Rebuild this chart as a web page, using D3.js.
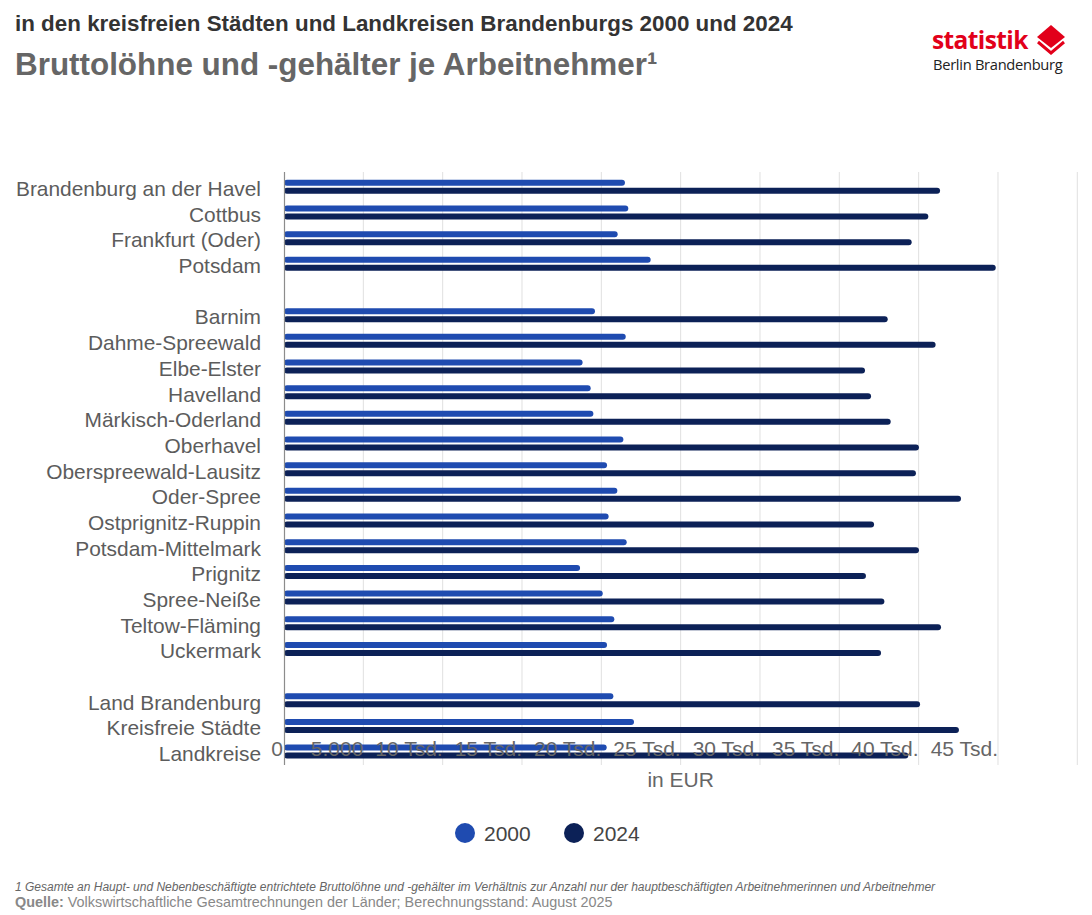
<!DOCTYPE html>
<html><head><meta charset="utf-8">
<script src="https://cdn.jsdelivr.net/npm/d3@7/dist/d3.min.js"></script>
<style>
html,body{margin:0;padding:0;background:#fff;}
svg{display:block;}
</style></head>
<body>
<svg id="chart" width="1092" height="915"></svg>
<script>
// ---- data ----
const categories = [
  "Brandenburg an der Havel","Cottbus","Frankfurt (Oder)","Potsdam",
  "Barnim","Dahme-Spreewald","Elbe-Elster","Havelland","Märkisch-Oderland","Oberhavel",
  "Oberspreewald-Lausitz","Oder-Spree","Ostprignitz-Ruppin","Potsdam-Mittelmark","Prignitz",
  "Spree-Neiße","Teltow-Fläming","Uckermark",
  "Land Brandenburg","Kreisfreie Städte","Landkreise"
];
const groupSizes = [4, 14, 3];
const values2000 = [21490,21700,21030,23110, 19600,21540,18820,19330,19500,21390,20360,21010,20460,21600,18660,20090,20820,20360, 20760,22060,20340];
const values2024 = [41350,40610,39560,44860, 38050,41070,36620,37000,38240,40020,39830,42670,37190,40020,36680,37840,41410,37630, 40090,42540,39350];
const seriesNames = ["2000","2024"];
const tickValues = [0,5000,10000,15000,20000,25000,30000,35000,40000,45000,50000];
const tickLabels = ["0","5.000","10 Tsd.","15 Tsd.","20 Tsd.","25 Tsd.","30 Tsd.","35 Tsd.","40 Tsd.","45 Tsd.",""];
const colors = ["#1f4bb0","#0c2157"];

// ---- layout ----
const svg = d3.select("#chart");
const plotLeft = 284, plotRight = 1077.3, plotTop = 174, plotBottom = 764.4;

// rows including blank separator rows
const rows = [];
let k = 0;
groupSizes.forEach((n, gi) => {
  if (gi > 0) rows.push(null);
  for (let i = 0; i < n; i++) rows.push(k++);
});
const rowKeys = rows.map((r, i) => "r" + i);
const catRow = {};
rows.forEach((r, i) => { if (r !== null) catRow[r] = "r" + i; });

const x = d3.scaleLinear().domain([0, 50000]).range([plotLeft, plotRight]);
const y = d3.scaleBand().domain(rowKeys).range([plotTop, plotBottom]).paddingInner(0).paddingOuter(0);

const FONT = "Liberation Sans, Arial, sans-serif";

// titles
svg.append("text").attr("x", 15).attr("y", 31)
  .attr("font-family", FONT).attr("font-weight", "bold")
  .attr("font-size", 22.4).attr("fill", "#333")
  .text("in den kreisfreien Städten und Landkreisen Brandenburgs 2000 und 2024");
svg.append("text").attr("x", 15).attr("y", 75)
  .attr("font-family", FONT).attr("font-weight", "bold")
  .attr("font-size", 31.4).attr("fill", "#666")
  .text("Bruttolöhne und -gehälter je Arbeitnehmer¹");

// logo
const logo = svg.append("g");
logo.append("text").attr("x", 932).attr("y", 49)
  .attr("font-family", "Open Sans, sans-serif").attr("font-weight", "bold")
  .attr("font-size", 24.5).attr("fill", "#e2001a").attr("letter-spacing", -0.6)
  .text("statistik");
logo.append("text").attr("x", 933).attr("y", 70)
  .attr("font-family", "Open Sans, sans-serif")
  .attr("font-size", 14.7).attr("fill", "#222").attr("letter-spacing", -0.3)
  .text("Berlin Brandenburg");
logo.append("path").attr("d", "M1051,25 L1065,37 L1051,48 L1037,37 Z").attr("fill", "#e2001a");
logo.append("path").attr("d", "M1038,42 L1051,53 L1064,42").attr("fill", "none").attr("stroke", "#e2001a").attr("stroke-width", 3);

// grid
const grid = svg.append("g");
grid.selectAll("line").data(tickValues.slice(1)).join("line")
  .attr("x1", d => x(d)).attr("x2", d => x(d))
  .attr("y1", 172).attr("y2", 765)
  .attr("stroke", "#e0e0e0").attr("stroke-width", 1);

// bars
const barH = 6;
const bars = svg.append("g");
categories.forEach((c, i) => {
  const cy = y(catRow[i]) + y.bandwidth() / 2;
  [values2000[i], values2024[i]].forEach((v, s) => {
    bars.append("rect")
      .attr("x", x(0)).attr("y", s === 0 ? cy - 7 : cy + 1)
      .attr("width", x(v) - x(0)).attr("height", barH)
      .attr("rx", 3).attr("ry", 3)
      .attr("fill", colors[s]);
  });
});

// y axis line
svg.append("line").attr("x1", 284.5).attr("x2", 284.5).attr("y1", 172).attr("y2", 765)
  .attr("stroke", "#8c8c8c").attr("stroke-width", 1.2);

// category labels
svg.append("g").selectAll("text").data(categories).join("text")
  .attr("x", 261).attr("y", (d, i) => y(catRow[i]) + y.bandwidth() / 2 + 2)
  .attr("dy", "0.35em").attr("text-anchor", "end")
  .attr("font-family", FONT).attr("font-size", 20.9)
  .attr("fill", "#5c5c5c")
  .text(d => d);

// x tick labels (right-aligned to gridline)
svg.append("g").selectAll("text").data(tickValues).join("text")
  .attr("x", (d, i) => x(d) + (i === 0 ? -1 : 0)).attr("y", 756)
  .attr("text-anchor", "end")
  .attr("font-family", FONT).attr("font-size", 21)
  .attr("fill", "#666")
  .text((d, i) => tickLabels[i]);

// axis title
svg.append("text").attr("x", (plotLeft + plotRight) / 2).attr("y", 787)
  .attr("text-anchor", "middle")
  .attr("font-family", FONT).attr("font-size", 21)
  .attr("fill", "#666").text("in EUR");

// legend
const legend = svg.append("g");
const legX = [465, 574];
seriesNames.forEach((n, i) => {
  legend.append("circle").attr("cx", legX[i]).attr("cy", 833).attr("r", 10).attr("fill", colors[i]);
  legend.append("text").attr("x", legX[i] + 19).attr("y", 840.5)
    .attr("font-family", FONT).attr("font-size", 21)
    .attr("fill", "#444").text(n);
});

// footnotes
svg.append("text").attr("x", 15).attr("y", 891)
  .attr("font-family", FONT).attr("font-style", "italic")
  .attr("font-size", 12).attr("fill", "#666")
  .text("1 Gesamte an Haupt- und Nebenbeschäftigte entrichtete Bruttolöhne und -gehälter im Verhältnis zur Anzahl nur der hauptbeschäftigten Arbeitnehmerinnen und Arbeitnehmer");
const src = svg.append("text").attr("x", 15).attr("y", 907)
  .attr("font-family", FONT)
  .attr("font-size", 14.4).attr("fill", "#888");
src.append("tspan").attr("font-weight", "bold").text("Quelle:");
src.append("tspan").text(" Volkswirtschaftliche Gesamtrechnungen der Länder; Berechnungsstand: August 2025");
</script>
</body></html>
